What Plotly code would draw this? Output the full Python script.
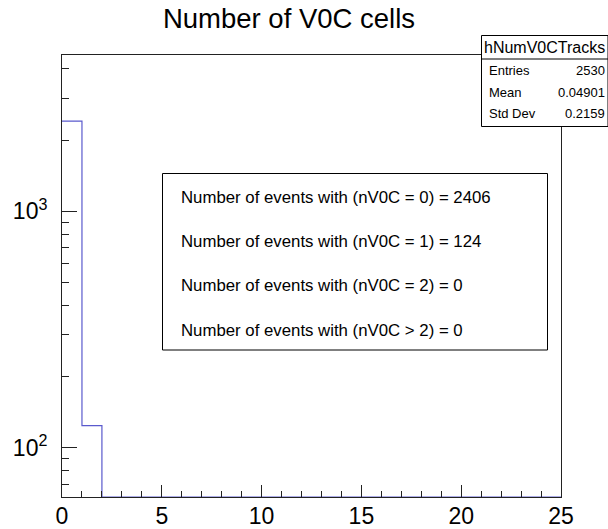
import math
import plotly.graph_objects as go

# ---- data ----
bin_edges = list(range(0, 26))           # 25 bins of width 1, 0..25
bin_counts = [2406, 124] + [0] * 23      # nV0C distribution
n_eq0, n_eq1, n_eq2, n_gt2 = 2406, 124, 0, 0
stats_name = "hNumV0CTracks"
stats_rows = [("Entries", "2530"), ("Mean", "0.04901"), ("Std Dev", "0.2159")]
title_text = "Number of V0C cells"
y_tickvals = [100, 1000]
y_ticktext = ["10<sup>2</sup>", "10<sup>3</sup>"]
x_tickvals = [0, 5, 10, 15, 20, 25]

# ---- layout geometry (pixels) ----
W, H = 608, 529
L, R, T, B = 62, 561, 55, 497
y_lo, y_hi = 61.9, 4581.0

def px(x):
    return (x - L) / (R - L)

def py(y):
    return (B - y) / (B - T)

# step outline; empty bins drawn on the lower edge of the log axis
ys = [max(c, y_lo) for c in bin_counts] + [max(bin_counts[-1], y_lo)]

fig = go.Figure()
fig.add_trace(go.Scatter(
    x=bin_edges, y=ys, mode="lines", line_shape="hv",
    line=dict(color="rgb(90,90,205)", width=1.2),
    hoverinfo="skip", showlegend=False,
))

font = "Liberation Sans, Arial, sans-serif"
shapes = []
annotations = []

# text box
shapes.append(dict(type="rect", xref="paper", yref="paper",
                   x0=px(162.5), x1=px(547.5), y0=py(350), y1=py(173.5),
                   line=dict(color="black", width=1), fillcolor="white", layer="above"))
lines = [
    f"Number of events with (nV0C = 0) = {n_eq0}",
    f"Number of events with (nV0C = 1) = {n_eq1}",
    f"Number of events with (nV0C = 2) = {n_eq2}",
    f"Number of events with (nV0C > 2) = {n_gt2}",
]
for txt, yy in zip(lines, [197.7, 241.7, 285.7, 330]):
    annotations.append(dict(text=txt, xref="paper", yref="paper", x=px(179), y=py(yy),
                            xanchor="left", yanchor="middle", showarrow=False,
                            font=dict(family=font, size=16.8, color="black")))

# stats box
shapes.append(dict(type="rect", xref="paper", yref="paper",
                   x0=px(481.5), x1=px(608), y0=py(126.5), y1=py(35.5),
                   line=dict(color="black", width=1), fillcolor="white", layer="above"))
shapes.append(dict(type="line", xref="paper", yref="paper",
                   x0=px(481.5), x1=px(608), y0=py(59), y1=py(59),
                   line=dict(color="black", width=1), layer="above"))
annotations.append(dict(text=stats_name, xref="paper", yref="paper", x=px(544.5), y=py(47.5),
                        xanchor="center", yanchor="middle", showarrow=False,
                        font=dict(family=font, size=16, color="black")))
for (k, v), yy in zip(stats_rows, [70, 92, 114]):
    annotations.append(dict(text=k, xref="paper", yref="paper", x=px(487), y=py(yy),
                            xanchor="left", yanchor="middle", showarrow=False,
                            font=dict(family=font, size=13, color="black")))
    annotations.append(dict(text=v, xref="paper", yref="paper", x=px(606.5), y=py(yy),
                            xanchor="right", yanchor="middle", showarrow=False,
                            font=dict(family=font, size=13, color="black")))

fig.update_layout(
    width=W, height=H,
    margin=dict(l=L, r=W - R, t=T, b=H - B, pad=0),
    paper_bgcolor="white", plot_bgcolor="white",
    font=dict(family=font, color="black"),
    title=dict(text=title_text, x=289 / W, xref="container", xanchor="center",
               y=1 - 18 / H, yref="container", yanchor="middle",
               font=dict(family=font, size=27.5, color="black")),
    shapes=shapes, annotations=annotations,
    xaxis=dict(range=[0, 25], showgrid=False, zeroline=False, automargin=False,
               showline=True, linecolor="#222", linewidth=1, mirror=True,
               tickmode="array", tickvals=x_tickvals,
               ticks="inside", ticklen=12, tickcolor="#222", tickwidth=1,
               ticklabelstandoff=-2,
               tickfont=dict(family=font, size=23, color="black"),
               minor=dict(ticks="inside", ticklen=6, dtick=1, tick0=0,
                          tickcolor="#222", showgrid=False)),
    yaxis=dict(type="log", range=[math.log10(y_lo), math.log10(y_hi)],
               showgrid=False, zeroline=False, automargin=False,
               showline=True, linecolor="#222", linewidth=1, mirror=True,
               tickmode="array", tickvals=y_tickvals, ticktext=y_ticktext,
               ticks="inside", ticklen=15, tickcolor="#222", tickwidth=1,
               ticklabelstandoff=9,
               tickfont=dict(family=font, size=23, color="black"),
               minor=dict(ticks="inside", ticklen=7, dtick="D1",
                          tickcolor="#222", showgrid=False)),
)

fig.write_html("out.html", config={"displayModeBar": False},
               post_script="document.body.style.margin='0';document.body.style.overflow='hidden';")
